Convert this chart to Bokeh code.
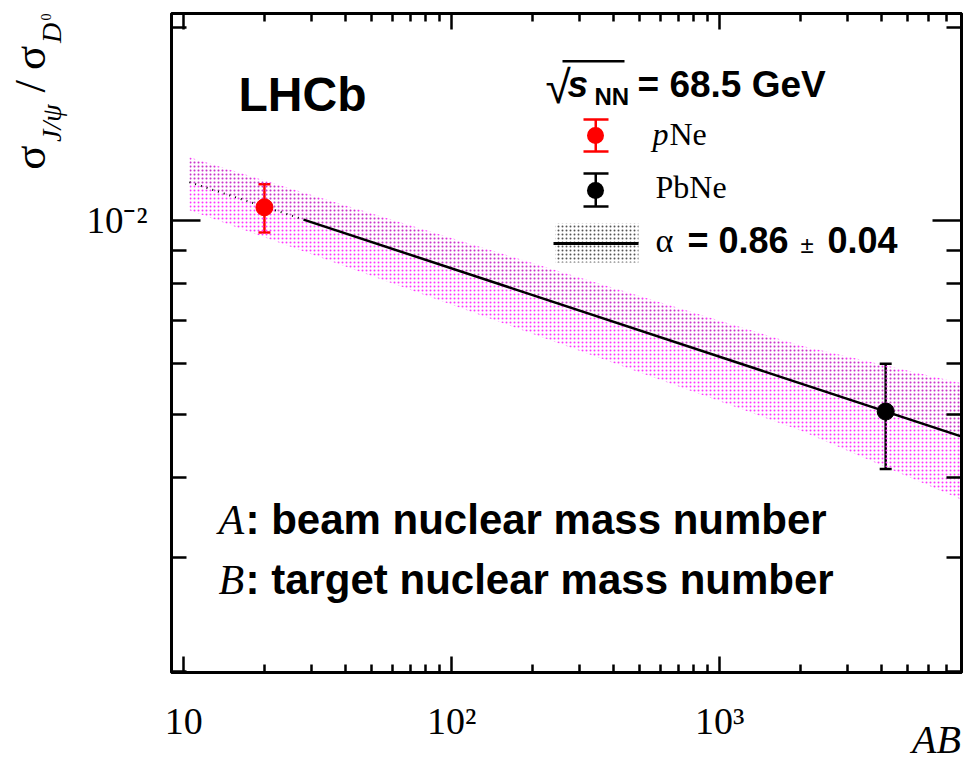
import math
from bokeh.plotting import figure
from bokeh.models import (Range1d, FixedTicker, LogAxis, Label, BoxAnnotation,
                          Whisker, ColumnDataSource, TeeHead, CustomJSTickFormatter)
from bokeh.embed import file_html
from bokeh.resources import INLINE

# ---------------- data ----------------
AB_pNe = [20.0]
ratio_pNe = [0.0105]
err_pNe = [0.0009]

AB_PbNe = [4160.0]
ratio_PbNe = [0.00506]
err_PbNe = [0.00094]

fit_AB_dotted = [10.5, 28.0]
fit_ratio_dotted = [0.01149, 0.01005]
fit_AB_solid = [28.0, 7900.0]
fit_ratio_solid = [0.01005, 0.004633]

band_AB = [10.5, 2000.0, 8000.0]
band_pink_hi = [0.01256, 0.006406, 0.005598]
band_pink_lo = [0.01039, 0.004728, 0.003691]
band_gray_hi = [0.01250, 0.006350, 0.005550]
band_gray_lo = [0.01149, 0.005594, 0.004625]

x_major = [10, 100, 1000]
x_minor = [20, 30, 40, 50, 60, 70, 80, 90,
           200, 300, 400, 500, 600, 700, 800, 900,
           2000, 3000, 4000, 5000, 6000, 7000, 8000]
x_tick_labels = {10: "10", 100: "10²", 1000: "10³"}
y_major = [0.01]
y_minor = [0.002, 0.003, 0.004, 0.005, 0.006, 0.007, 0.008, 0.009, 0.02]
y_tick_labels = {0.01: "10⁻²"}

X_MIN, X_MAX = 9.0, 7980.0
Y_MIN, Y_MAX = 0.00199, 0.0210

SANS = "Liberation Sans"
SERIF = "Liberation Serif"

# frame placement in canvas pixels
FL, FT, FR, FB = 171, 13, 961, 674
W, H = 963, 764

p = figure(width=W, height=H, x_axis_type="log", y_axis_type="log",
           x_range=Range1d(X_MIN, X_MAX), y_range=Range1d(Y_MIN, Y_MAX),
           output_backend="svg", toolbar_location=None,
           min_border_left=FL, min_border_right=W - FR, min_border_top=FT, min_border_bottom=H - FB)
p.grid.visible = False
p.outline_line_color = "black"
p.outline_line_width = 3
p.background_fill_color = "white"
p.border_fill_color = "white"


def px_to_x(X):
    lo, hi = math.log10(X_MIN), math.log10(X_MAX)
    return 10 ** (lo + (X - FL) / (FR - FL) * (hi - lo))


def px_to_y(Y):
    lo, hi = math.log10(Y_MIN), math.log10(Y_MAX)
    return 10 ** (hi - (Y - FT) / (FB - FT) * (hi - lo))


def style_axis(ax, major, minor, major_in, minor_in):
    ax.ticker = FixedTicker(ticks=major, minor_ticks=minor)
    ax.axis_line_color = "black"
    ax.axis_line_width = 3
    ax.major_tick_in = major_in
    ax.major_tick_out = 0
    ax.minor_tick_in = minor_in
    ax.minor_tick_out = 0
    ax.major_tick_line_width = 2.5
    ax.minor_tick_line_width = 2.5
    ax.major_tick_line_color = "black"
    ax.minor_tick_line_color = "black"


xb = p.xaxis[0]
style_axis(xb, x_major, x_minor, 16, 8)
xb.major_label_overrides = x_tick_labels
xb.major_label_text_font = SERIF
xb.major_label_text_font_size = "38px"
xb.major_label_text_color = "black"
xb.major_label_standoff = 27

yl = p.yaxis[0]
style_axis(yl, y_major, y_minor, 29, 15)
yl.major_label_overrides = y_tick_labels
yl.major_label_text_font = SERIF
yl.major_label_text_font_size = "37px"
yl.major_label_text_color = "black"
yl.major_label_standoff = 24

blank = CustomJSTickFormatter(code="return ''")
xt = LogAxis()
style_axis(xt, x_major, x_minor, 16, 8)
xt.formatter = blank
xt.major_label_standoff = 0
xt.major_label_text_font_size = "0px"
p.add_layout(xt, "above")
yr = LogAxis()
style_axis(yr, y_major, y_minor, 29, 15)
yr.formatter = blank
yr.major_label_standoff = 0
yr.major_label_text_font_size = "0px"
p.add_layout(yr, "right")


def text_axis(side, ticks, labels, size, style, standoff, orientation):
    ax = LogAxis(ticker=FixedTicker(ticks=ticks, minor_ticks=[]))
    ax.major_label_overrides = dict(zip(ticks, labels))
    ax.axis_line_color = None
    ax.major_tick_line_color = None
    ax.minor_tick_line_color = None
    ax.major_tick_in = 0
    ax.major_tick_out = 0
    ax.minor_tick_in = 0
    ax.minor_tick_out = 0
    ax.major_label_text_font = SERIF
    ax.major_label_text_font_size = f"{size}px"
    ax.major_label_text_font_style = style
    ax.major_label_text_color = "black"
    ax.major_label_standoff = standoff
    ax.major_label_orientation = orientation
    p.add_layout(ax, side)


# y axis title  sigma_{J/psi} / sigma_{D^0}, built from stacked label-only axes
text_axis("left", [px_to_y(123), px_to_y(32.5)], ["J/ψ", "D"], 28, "italic", 16, "parallel")
text_axis("left", [px_to_y(157.5), px_to_y(86), px_to_y(57.5)], ["σ", "/", "σ"], 45, "normal", -22, "parallel")
text_axis("left", [px_to_y(16.5)], ["0"], 14, "normal", -49, "parallel")
# x axis title AB (right end, below the tick labels)
text_axis("below", [px_to_x(936)], ["AB"], 40, "italic", -28, "horizontal")

# bands
p.varea(x=band_AB, y1=band_pink_lo, y2=band_pink_hi, fill_alpha=0,
        hatch_pattern="dot", hatch_color="#ff33ff", hatch_scale=4, hatch_weight=1)
p.varea(x=band_AB, y1=band_gray_lo, y2=band_gray_hi, fill_alpha=0,
        hatch_pattern="dot", hatch_color="#444444", hatch_scale=4, hatch_weight=1, hatch_alpha=0.3)

# fit line
p.line(fit_AB_dotted, fit_ratio_dotted, line_color="black", line_width=2, line_dash="1 5")
p.line(fit_AB_solid, fit_ratio_solid, line_color="black", line_width=2.5)

# data points
for xs, ys, es, col in [(AB_pNe, ratio_pNe, err_pNe, "red"), (AB_PbNe, ratio_PbNe, err_PbNe, "black")]:
    src = ColumnDataSource(dict(x=xs, y=ys,
                                lo=[y - e for y, e in zip(ys, es)],
                                hi=[y + e for y, e in zip(ys, es)]))
    w = Whisker(base="x", upper="hi", lower="lo", source=src, dimension="height",
                line_color=col, line_width=2.5,
                upper_head=TeeHead(size=12, line_color=col, line_width=2.5),
                lower_head=TeeHead(size=12, line_color=col, line_width=2.5))
    p.add_layout(w)
    p.scatter("x", "y", source=src, size=17, fill_color=col, line_color=col)


BASE_K = 0.37  # empirical shift of the rendered baseline, in em


def lab(text, X, Y, size, font=SANS, style="normal", align="left"):
    p.add_layout(Label(x=X, y=Y - BASE_K * size, x_units="canvas", y_units="canvas",
                       text=text, text_font=font, text_font_size=f"{size}px",
                       text_font_style=style, text_color="black", text_align=align,
                       text_baseline="alphabetic", level="overlay"))


def box(l, r, t, b, color="black", radius=0, hatch=False):
    kw = dict(left=l, right=r, top=t, bottom=b,
              left_units="canvas", right_units="canvas", top_units="canvas", bottom_units="canvas",
              line_alpha=0, level="overlay", editable=False)
    if hatch:
        kw.update(fill_alpha=0, hatch_pattern="dot", hatch_color="#555555", hatch_scale=4, hatch_weight=1)
    else:
        kw.update(fill_color=color, fill_alpha=1)
    if radius:
        kw["border_radius"] = int(radius)
    p.add_layout(BoxAnnotation(**kw))


# LHCb
lab("LHCb", 238, 112, 48, style="bold")

# sqrt(s_NN) = 68.5 GeV
lab("√", 545, 104, 46)
box(562, 624, 59.5, 62)
lab("s", 567, 98, 37, style="bold italic")
lab("NN", 594, 105, 24, style="bold")
lab("= 68.5 GeV", 637, 98, 37, style="bold")

# legend entries
for cy, col, top, bot in [(135, "red", 119, 151), (190, "black", 173, 206)]:
    box(594, 596.5, top, bot, col)
    box(583, 608, top - 1.25, top + 1.25, col)
    box(583, 608, bot - 1.25, bot + 1.25, col)
    box(586.5, 603.5, cy - 8.5, cy + 8.5, col, radius=9)
lab("p", 652, 145, 32, font=SERIF, style="italic")
lab("Ne", 669, 145, 32, font=SERIF)
lab("PbNe", 655, 198, 32, font=SERIF)

box(555, 638, 223, 262, hatch=True)
box(553, 638, 241.5, 244.5)
lab("α", 655, 253, 34, font=SERIF)
lab("= 0.86", 687, 253, 36, style="bold")
lab("±", 800, 253, 24)
lab("0.04", 827, 253, 36, style="bold")

# A / B notes
lab("A", 218, 535, 42, font=SERIF, style="italic")
lab(": beam nuclear mass number", 245, 535, 42, style="bold")
lab("B", 218, 595, 42, font=SERIF, style="italic")
lab(": target nuclear mass number", 245, 595, 42, style="bold")

open("out.html", "w").write(file_html(p, INLINE))
